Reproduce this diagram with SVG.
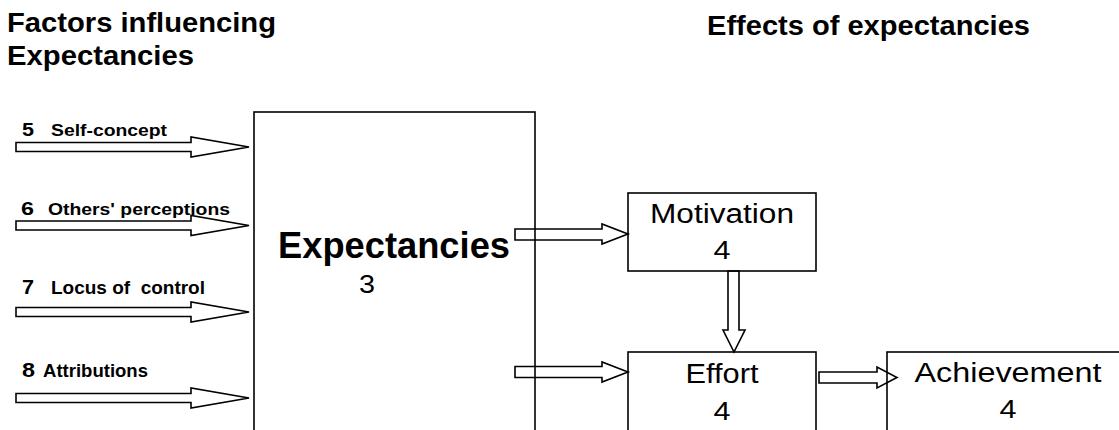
<svg xmlns="http://www.w3.org/2000/svg" width="1119" height="430" viewBox="0 0 1119 430">
<style>
text{font-family:"Liberation Sans",Arial,Helvetica,sans-serif;fill:#000}
.h{font-weight:bold;font-size:28px}
.lb{font-weight:bold}
.w{font-size:27px}
.d{font-size:25px}
.box{fill:none;stroke:#000;stroke-width:1.6}
.arr{fill:none;stroke:#000;stroke-width:1.6;stroke-linejoin:miter}
</style>
<rect width="1119" height="430" fill="#fff"/>
<g id="headers">
<text class="h" x="7" y="32" textLength="269" lengthAdjust="spacingAndGlyphs">Factors influencing</text>
<text class="h" x="7" y="65" textLength="187" lengthAdjust="spacingAndGlyphs">Expectancies</text>
<text class="h" x="707" y="35" textLength="323" lengthAdjust="spacingAndGlyphs">Effects of expectancies</text>
</g>
<g id="factor5"><text class="lb" y="136"><tspan x="22" font-size="18" textLength="12" lengthAdjust="spacingAndGlyphs">5</tspan><tspan x="51" font-size="16" textLength="116" lengthAdjust="spacingAndGlyphs">Self-concept</tspan></text></g>
<g id="factor6"><text class="lb" y="215"><tspan x="21" font-size="19" textLength="13" lengthAdjust="spacingAndGlyphs">6</tspan><tspan x="48" font-size="17" textLength="182" lengthAdjust="spacingAndGlyphs">Others' perceptions</tspan></text></g>
<g id="factor7"><text class="lb" y="294"><tspan x="22" font-size="20" textLength="12" lengthAdjust="spacingAndGlyphs">7</tspan><tspan x="51" font-size="18" textLength="154" lengthAdjust="spacingAndGlyphs" style="white-space:pre">Locus of  control</tspan></text></g>
<g id="factor8"><text class="lb" y="377"><tspan x="22" font-size="20" textLength="13" lengthAdjust="spacingAndGlyphs">8</tspan><tspan x="43" font-size="18" textLength="105" lengthAdjust="spacingAndGlyphs">Attributions</tspan></text></g>
<g id="expectancies">
<rect class="box" x="254" y="112" width="281" height="340"/>
<text class="lb" x="394" y="258" font-size="36" text-anchor="middle" textLength="232" lengthAdjust="spacingAndGlyphs">Expectancies</text>
<text class="d" x="367" y="293" text-anchor="middle" textLength="16" lengthAdjust="spacingAndGlyphs">3</text>
</g>
<g id="motivation">
<rect class="box" x="628" y="193" width="188" height="78"/>
<text class="w" x="722" y="223" text-anchor="middle" textLength="144" lengthAdjust="spacingAndGlyphs">Motivation</text>
<text class="d" x="722" y="259" text-anchor="middle" textLength="17" lengthAdjust="spacingAndGlyphs">4</text>
</g>
<g id="effort">
<rect class="box" x="628" y="352" width="188" height="100"/>
<text class="w" x="722" y="383" text-anchor="middle" textLength="73" lengthAdjust="spacingAndGlyphs">Effort</text>
<text class="d" x="722" y="420" text-anchor="middle" textLength="17" lengthAdjust="spacingAndGlyphs">4</text>
</g>
<g id="achievement">
<rect class="box" x="887" y="352" width="260" height="100"/>
<text class="w" x="1008" y="382" text-anchor="middle" textLength="187" lengthAdjust="spacingAndGlyphs">Achievement</text>
<text class="d" x="1008" y="418" text-anchor="middle" textLength="17" lengthAdjust="spacingAndGlyphs">4</text>
</g>
<g id="connectors">
<polygon class="arr" points="16,142.5 191,142.5 191,137 249,147 191,157 191,151.5 16,151.5"/>
<polygon class="arr" points="16,221 191,221 191,215.5 249,225.5 191,235.5 191,230 16,230"/>
<polygon class="arr" points="16,307.5 191,307.5 191,302 249,312 191,322 191,316.5 16,316.5"/>
<polygon class="arr" points="16,393.5 191,393.5 191,388 249,398 191,408 191,402.5 16,402.5"/>
<polygon class="arr" points="515,229 602,229 602,224 628,234 602,244 602,240 515,240"/>
<polygon class="arr" points="515,366.5 602,366.5 602,362 628,372 602,382 602,377.5 515,377.5"/>
<polygon class="arr" points="728,271 739,271 739,330 745,330 734,352 723,330 728,330"/>
<polygon class="arr" points="819,372 877,372 877,367 897,377.5 877,388 877,383 819,383"/>
</g>
</svg>
